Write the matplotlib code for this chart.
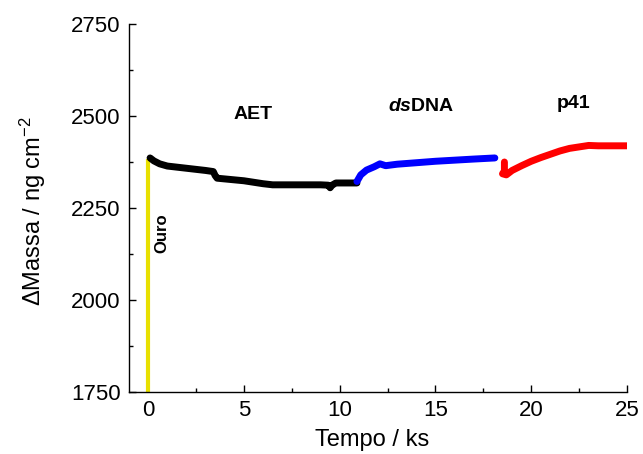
import matplotlib
matplotlib.use("Agg")
import matplotlib.pyplot as plt

plt.rcParams['font.family'] = ['Liberation Sans', 'DejaVu Sans']
plt.rcParams['mathtext.fontset'] = 'custom'
plt.rcParams['mathtext.rm'] = 'Liberation Sans'
plt.rcParams['mathtext.it'] = 'Liberation Sans:italic'
plt.rcParams['mathtext.bf'] = 'Liberation Sans:bold'
plt.rcParams['mathtext.bfit'] = 'Liberation Sans:italic:bold'

# Gold electrode step (Ouro)
ouro_t = [0.0, 0.0]
ouro_m = [1750, 2382]

# AET adsorption
aet_t = [0.1, 0.3, 0.6, 1.0, 1.5, 2.0, 2.5, 3.0, 3.4, 3.5, 3.6, 4.0, 5.0, 6.0, 6.5, 7.0, 8.0, 9.0, 9.4, 9.5, 9.6, 9.8, 10.3, 10.9]
aet_m = [2386, 2378, 2370, 2364, 2361, 2358, 2355, 2352, 2349, 2338, 2331, 2329, 2324, 2316, 2313, 2313, 2313, 2313, 2312, 2305, 2312, 2318, 2318, 2318]

# dsDNA immobilisation
dna_t = [10.9, 11.1, 11.4, 11.8, 12.1, 12.4, 13.0, 14.0, 15.0, 16.0, 17.0, 18.1]
dna_m = [2322, 2340, 2353, 2362, 2370, 2365, 2369, 2373, 2377, 2380, 2383, 2386]

# p41 binding
p41_t = [18.6, 18.6, 18.5, 18.7, 19.0, 19.5, 20.0, 20.5, 21.0, 21.5, 22.0, 22.5, 23.0, 23.5, 24.0, 25.0]
p41_m = [2375, 2350, 2343, 2340, 2352, 2365, 2377, 2387, 2396, 2405, 2412, 2416, 2420, 2419, 2419, 2419]

fig = plt.figure(figsize=(6.43, 4.54), dpi=100)
ax = fig.add_axes([129/643, 1 - 392/454, (627-129)/643, (392-24)/454])

ax.plot(ouro_t, ouro_m, color='#e8e000', lw=3, solid_capstyle='butt')
ax.plot(aet_t, aet_m, color='black', lw=5, solid_capstyle='round', solid_joinstyle='round')
ax.plot(dna_t, dna_m, color='#0000ff', lw=5, solid_capstyle='round', solid_joinstyle='round')
ax.plot(p41_t, p41_m, color='#ff0000', lw=5, solid_capstyle='round', solid_joinstyle='round')

ax.set_xlim(-1, 25)
ax.set_ylim(1750, 2750)
ax.set_xticks([0, 5, 10, 15, 20, 25])
ax.set_xticks([2.5, 7.5, 12.5, 17.5, 22.5], minor=True)
ax.set_yticks([1750, 2000, 2250, 2500, 2750])
ax.set_yticks([1875, 2125, 2375, 2625], minor=True)

for side in ('top', 'right'):
    ax.spines[side].set_visible(False)
for side in ('left', 'bottom'):
    ax.spines[side].set_linewidth(1.0)

ax.tick_params(which='both', direction='in', labelsize=16, width=1.0)
ax.tick_params(which='major', length=5)
ax.tick_params(which='minor', length=3)
ax.tick_params(axis='x', pad=6)
ax.tick_params(axis='y', pad=6)

ax.set_xlabel('Tempo / ks', fontsize=17)
ax.set_ylabel('ΔMassa / ng cm$^{-2}$', fontsize=17)
ax.xaxis.set_label_coords((372 - 129) / 498, -(446 - 392) / 368, transform=ax.transAxes)
ax.xaxis.label.set_va('baseline')
ax.yaxis.set_label_coords(-(129 - 33) / 498, (392 - 211) / 368, transform=ax.transAxes)
ax.yaxis.label.set_va('center')

ax.text(5.5, 2504, 'AET', fontsize=14, fontweight='bold', ha='center', va='center')
ax.text(14.25, 2525, r'$\mathbfit{ds}$' + 'DNA', fontsize=14, fontweight='bold',
        ha='center', va='center')
ax.text(22.2, 2533, 'p41', fontsize=14, fontweight='bold', ha='center', va='center')
ax.text(0.73, 2182, 'Ouro', fontsize=12, fontweight='bold', ha='center', va='center',
        rotation=90)

fig.savefig('out.png', dpi=100)
